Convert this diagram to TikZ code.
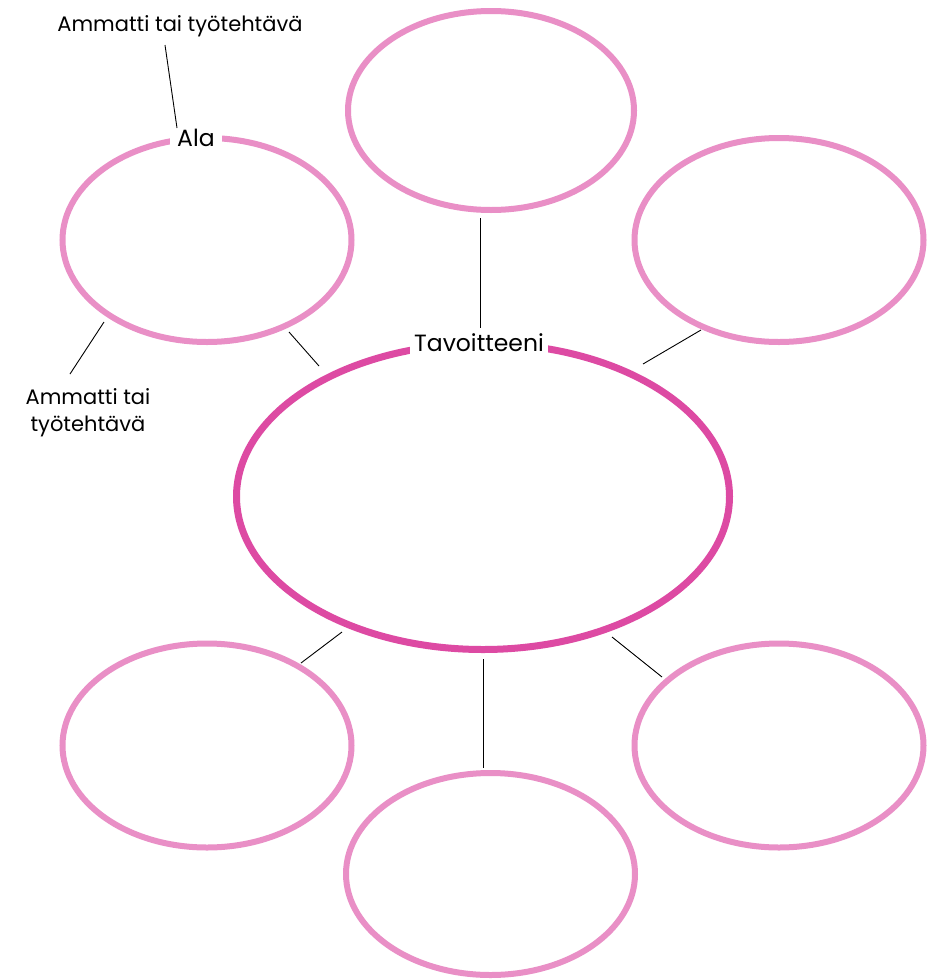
\documentclass[tikz,border=0pt]{standalone}
\usepackage{fontspec}
\setmainfont{Poppins}
\usetikzlibrary{shapes.geometric}
\definecolor{lightpink}{HTML}{E98FC6}
\definecolor{darkpink}{HTML}{DD4AA3}
\begin{document}
\begin{tikzpicture}[x=1pt,y=-1pt,
  bubble/.style={ellipse,draw=lightpink,line width=6pt,minimum width=289pt,minimum height=204pt,inner sep=0pt,outer sep=0pt},
  center bubble/.style={ellipse,draw=darkpink,line width=7pt,minimum width=493pt,minimum height=306pt,inner sep=0pt,outer sep=0pt},
  conn/.style={draw=black,line width=0.9pt},
  small label/.style={font=\fontsize{21}{27}\selectfont,text=black,inner sep=0pt},
  title label/.style={font=\fontsize{23.5}{26}\selectfont,text=black,fill=white,inner xsep=4pt,inner ysep=3pt}]
\useasboundingbox (0,0) rectangle (937,980);
\fill[white] (0,0) rectangle (937,980);
% bubbles
\node[bubble,minimum width=286pt,minimum height=199pt] (top) at (491,110.5) {};
\node[bubble] (tl) at (207,240) {};
\node[bubble] (tr) at (779,240) {};
\node[center bubble] (main) at (483,496.5) {};
\node[bubble] (bl) at (207,745.5) {};
\node[bubble] (br) at (779,745.5) {};
\node[bubble,minimum height=202pt] (bc) at (490.5,874) {};
% titles
\node[title label,inner xsep=7pt] (ala) at (196,138) {Ala};
\node[title label] (tav) at (479,343) {Tavoitteeni};
% small labels
\node[small label] (lab1) at (180,26) {Ammatti tai työtehtävä};
\node[small label,align=center] (lab2) at (88,413) {Ammatti tai\\työtehtävä};
% connector end points
\coordinate (c1a) at (165,45);  \coordinate (c1b) at (177,128);
\coordinate (c2a) at (104,322); \coordinate (c2b) at (70,374);
\coordinate (c3a) at (289,332); \coordinate (c3b) at (319,366);
\coordinate (c4a) at (480,218); \coordinate (c4b) at (480,328);
\coordinate (c5a) at (701,330); \coordinate (c5b) at (643,364);
\coordinate (c6a) at (342,632); \coordinate (c6b) at (301,663);
\coordinate (c7a) at (483,659); \coordinate (c7b) at (483,768);
\coordinate (c8a) at (612,637); \coordinate (c8b) at (662,677);
\draw[conn] (c1a) -- (c1b);
\draw[conn] (c2a) -- (c2b);
\draw[conn] (c3a) -- (c3b);
\draw[conn] (c4a) -- (c4b);
\draw[conn] (c5a) -- (c5b);
\draw[conn] (c6a) -- (c6b);
\draw[conn] (c7a) -- (c7b);
\draw[conn] (c8a) -- (c8b);
\end{tikzpicture}
\end{document}
